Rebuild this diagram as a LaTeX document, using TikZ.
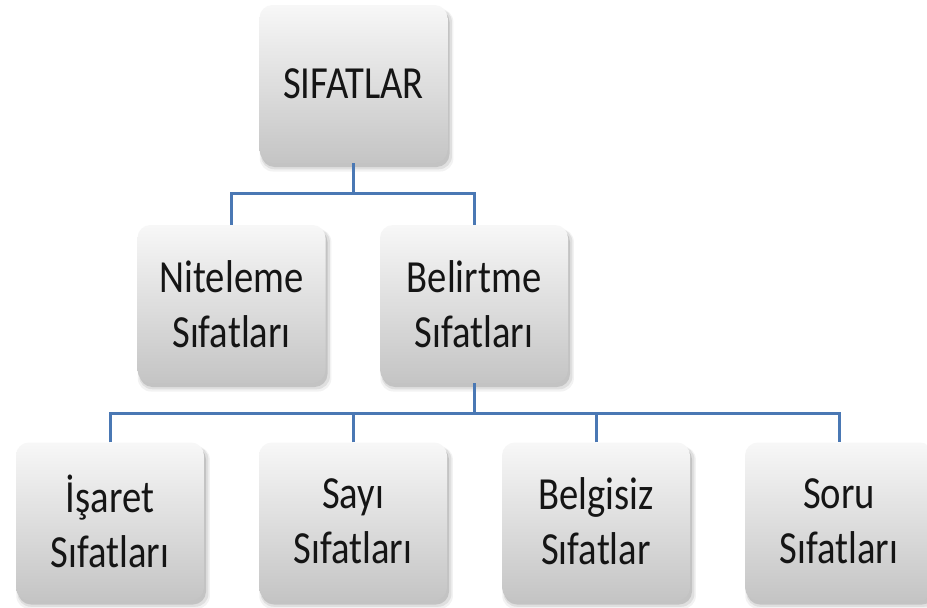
\documentclass[tikz,border=0pt]{standalone}
\usepackage{fontspec}
\setmainfont{Carlito}[FakeStretch=0.84]
\usetikzlibrary{shadows}
\definecolor{conncol}{HTML}{4A78B4}
\definecolor{txtcol}{HTML}{151515}
\tikzset{
  box/.style={rectangle, rounded corners=13pt, minimum width=188pt, minimum height=158pt,
    inner sep=0pt, top color=black!3, bottom color=black!23, draw=none,
    align=center, text=txtcol, font=\fontsize{46}{55}\selectfont,
    general shadow={shadow xshift=3pt, shadow yshift=-6pt, shadow scale=1.03, opacity=0.05, fill=black},
    general shadow={shadow xshift=3pt, shadow yshift=-5pt, shadow scale=1.015, opacity=0.08, fill=black},
    general shadow={shadow xshift=2pt, shadow yshift=-4pt, shadow scale=1.0, opacity=0.12, fill=black}},
  conn/.style={draw=conncol, line width=3pt}
}
\begin{document}
\begin{tikzpicture}[x=1pt,y=-1pt]
\useasboundingbox (0,0) rectangle (927,608);
\fill[white] (0,0) rectangle (927,608);
\coordinate (bar1) at (0,193);
\coordinate (bar2) at (0,413);
\node[box] (top) at (353.5,84) {SIFATLAR};
\node[box] (nit) at (231.5,304) {Niteleme\\Sıfatları};
\node[box] (bel) at (474,304) {Belirtme\\Sıfatları};
\node[box] (isa) at (110,521.5) {İşaret\\Sıfatları};
\node[box] (say) at (353,521.5) {Sayı\\Sıfatları};
\node[box] (belg) at (596,521.5) {Belgisiz\\Sıfatlar};
\node[box] (soru) at (839,521.5) {Soru\\Sıfatları};
\draw[conn] (top.south) -- (top.south |- bar1);
\draw[conn] (nit.north) |- (top.south |- bar1) -| (bel.north);
\draw[conn] (bel.south) -- (bel.south |- bar2);
\draw[conn] (isa.north) |- (bel.south |- bar2) -| (soru.north);
\draw[conn] (say.north) -- (say.north |- bar2);
\draw[conn] (belg.north) -- (belg.north |- bar2);
\end{tikzpicture}
\end{document}
